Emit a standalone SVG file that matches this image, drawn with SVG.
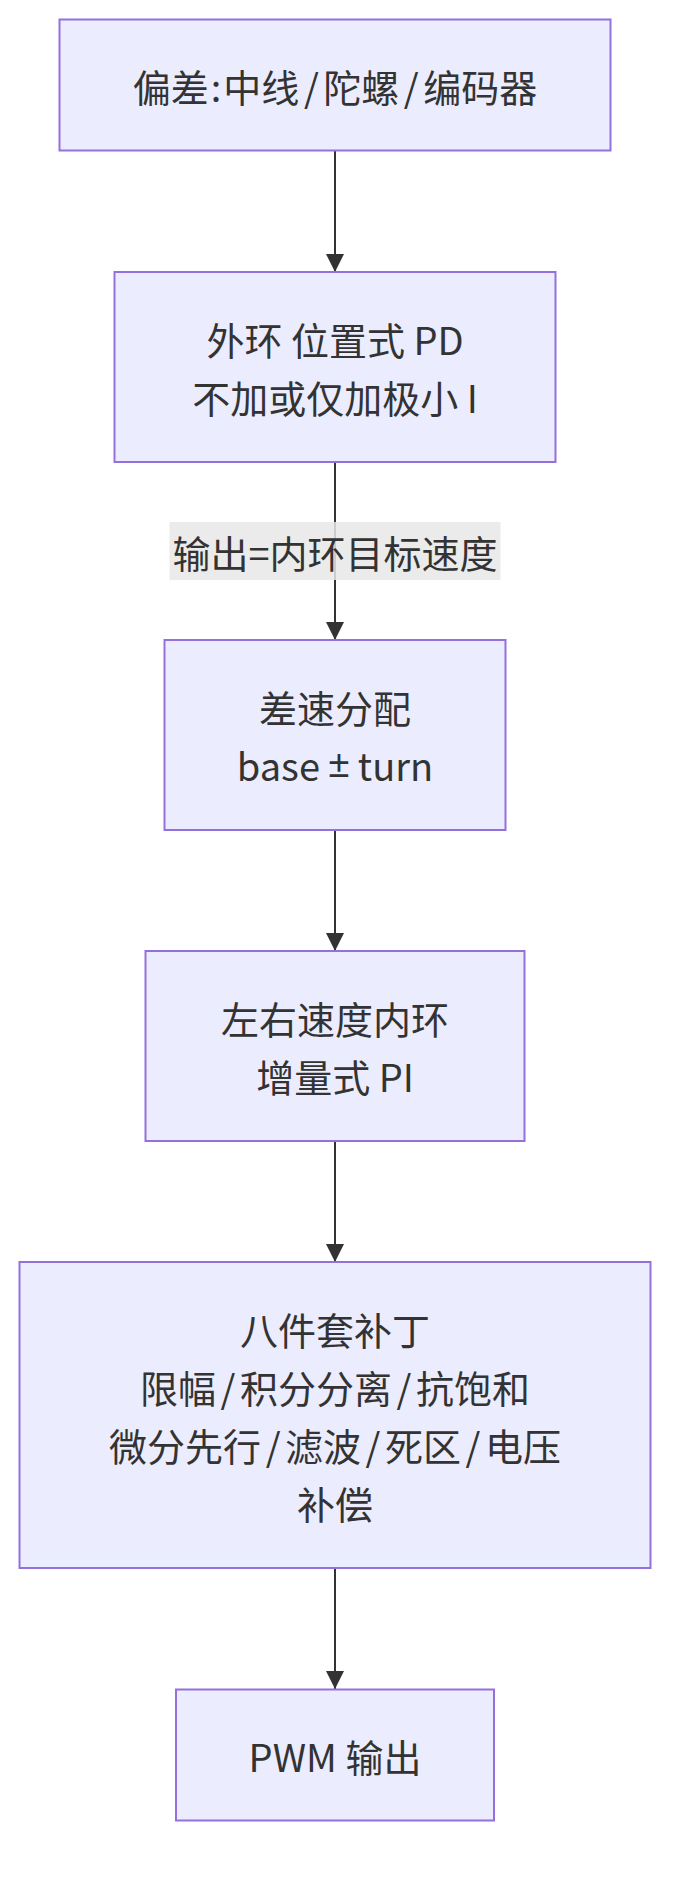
<svg xmlns="http://www.w3.org/2000/svg" width="690" height="1895" viewBox="0 0 690 1895">
<style>
.node rect{fill:#ECECFF;stroke:#9370DB;stroke-width:2}
text{font-family:"Noto Sans CJK SC","Noto Sans",sans-serif;font-size:38px;fill:#333333;text-anchor:middle;dominant-baseline:central}
.lat{font-family:"Liberation Sans",sans-serif}
.edge{stroke:#333333;stroke-width:2;fill:none;marker-end:url(#arrow)}
.lbl{fill:#e8e8e8;fill-opacity:0.85}
</style>
<defs>
<marker id="arrow" viewBox="0 0 10 10" refX="10" refY="5" markerWidth="19.5" markerHeight="18" markerUnits="userSpaceOnUse" orient="auto">
<path d="M0,0 L10,5 L0,10 z" fill="#333333"/>
</marker>
</defs>
<g id="edges">
<line class="edge" x1="335" y1="151" x2="335" y2="272"/>
<line class="edge" x1="335" y1="462" x2="335" y2="640"/>
<line class="edge" x1="335" y1="830" x2="335" y2="951"/>
<line class="edge" x1="335" y1="1141" x2="335" y2="1262"/>
<line class="edge" x1="335" y1="1568" x2="335" y2="1689"/>
</g>
<g id="edge-label">
<rect class="lbl" x="169.5" y="522" width="331" height="58"/>
<text x="335" y="551">输出=内环目标速度</text>
</g>
<g id="n1" class="node">
<rect x="59.5" y="19.5" width="551" height="131"/>
<text x="335" y="85">偏差<tspan dx="2">:</tspan><tspan dx="2">中线</tspan><tspan dx="4.5">/</tspan><tspan dx="4.5">陀螺</tspan><tspan dx="4.5">/</tspan><tspan dx="4.5">编码器</tspan></text>
</g>
<g id="n2" class="node">
<rect x="114.5" y="272" width="441" height="190"/>
<text x="335" y="338">外环 位置式 PD</text>
<text x="335" y="396">不加或仅加极小 I</text>
</g>
<g id="n3" class="node">
<rect x="164.5" y="640" width="341" height="190"/>
<text x="335" y="706">差速分配</text>
<text x="335" y="764">base <tspan class="lat">±</tspan> turn</text>
</g>
<g id="n4" class="node">
<rect x="145.5" y="951" width="379" height="190"/>
<text x="335" y="1017">左右速度内环</text>
<text x="335" y="1075">增量式 PI</text>
</g>
<g id="n5" class="node">
<rect x="19.5" y="1262" width="631" height="306"/>
<text x="335" y="1328">八件套补丁</text>
<text x="335" y="1386">限幅<tspan dx="4.5">/</tspan><tspan dx="4.5">积分分离</tspan><tspan dx="4.5">/</tspan><tspan dx="4.5">抗饱和</tspan></text>
<text x="335" y="1444">微分先行<tspan dx="4.5">/</tspan><tspan dx="4.5">滤波</tspan><tspan dx="4.5">/</tspan><tspan dx="4.5">死区</tspan><tspan dx="4.5">/</tspan><tspan dx="4.5">电压</tspan></text>
<text x="335" y="1502">补偿</text>
</g>
<g id="n6" class="node">
<rect x="176" y="1689.5" width="318" height="131"/>
<text x="335" y="1755">PWM 输出</text>
</g>
</svg>
